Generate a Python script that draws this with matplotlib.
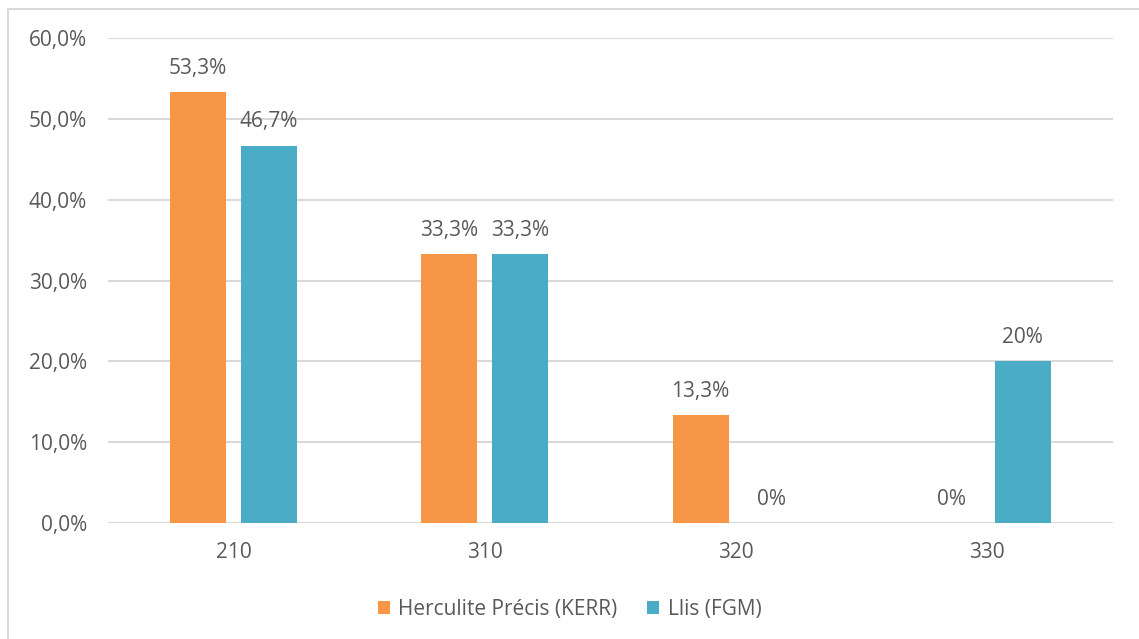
import numpy as np
import matplotlib.pyplot as plt
from matplotlib.patches import Rectangle

plt.rcParams['font.family'] = ['Open Sans', 'DejaVu Sans']

categories = ['210', '310', '320', '330']
kerr = [53.3, 33.3, 13.3, 0]
fgm = [46.7, 33.3, 0, 20]
kerr_labels = ['53,3%', '33,3%', '13,3%', '0%']
fgm_labels = ['46,7%', '33,3%', '0%', '20%']
yticks = [0, 10, 20, 30, 40, 50, 60]
ytick_labels = ['0,0%', '10,0%', '20,0%', '30,0%', '40,0%', '50,0%', '60,0%']

orange = '#F79646'
teal = '#4BACC6'
text_col = '#595959'
fs = 15

fig = plt.figure(figsize=(11.39, 6.39), dpi=100)
ax = fig.add_axes([108 / 1139, 1 - 523 / 639, 1005 / 1139, 485 / 639])

# outer frame of the chart area
fig.patches.append(Rectangle((8 / 1139, -0.01), 1.2, 1 - 9 / 639 + 0.01,
                             transform=fig.transFigure, fill=False,
                             edgecolor='#D9D9D9', linewidth=1.5))

x = np.arange(len(categories))
w = 0.223
off = 0.283
b1 = ax.bar(x - off / 2, kerr, w, color=orange, label='Herculite Précis (KERR)', zorder=3)
b2 = ax.bar(x + off / 2, fgm, w, color=teal, label='Llis (FGM)', zorder=3)

for bars, labels in ((b1, kerr_labels), (b2, fgm_labels)):
    for rect, lab in zip(bars, labels):
        ax.annotate(lab, (rect.get_x() + rect.get_width() / 2, rect.get_height()),
                    xytext=(0, 9.5), textcoords='offset points', ha='center', va='bottom',
                    fontsize=fs, color=text_col)

ax.set_xlim(-0.5, len(categories) - 0.5)
ax.set_ylim(0, 60)
ax.set_yticks(yticks)
ax.set_yticklabels(ytick_labels)
ax.set_xticks(x)
ax.set_xticklabels(categories)
ax.tick_params(length=0, labelsize=fs, labelcolor=text_col)
ax.tick_params(axis='y', pad=15)
ax.tick_params(axis='x', pad=14)
ax.grid(axis='y', color='#D9D9D9', linewidth=1.5, zorder=0)
for s in ax.spines.values():
    s.set_visible(False)

fig.legend(loc='center', bbox_to_anchor=(0.5, 1 - 609 / 639), ncol=2, frameon=False,
           fontsize=fs, labelcolor=text_col, handlelength=0.6, handleheight=0.6,
           handletextpad=0.4, columnspacing=1.4)

fig.savefig('out.png', dpi=100)
